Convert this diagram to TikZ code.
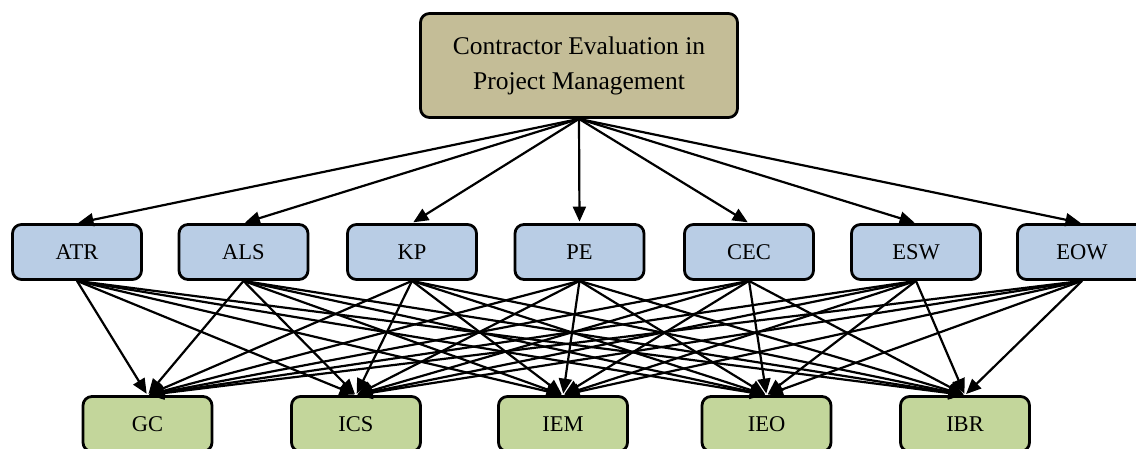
\documentclass[tikz,border=0pt]{standalone}
\usepackage{fontspec}
\setmainfont{Liberation Serif}
\usetikzlibrary{arrows.meta}
\definecolor{tanfill}{HTML}{C4BD97}
\definecolor{bluefill}{HTML}{B9CDE5}
\definecolor{greenfill}{HTML}{C3D69B}
\tikzset{
  box/.style={draw=black, line width=2.8pt, rounded corners=9pt, minimum width=129pt, minimum height=55pt, inner sep=0pt, font=\fontsize{22.5}{26}\selectfont},
  topbox/.style={box, fill=tanfill, minimum width=317pt, minimum height=104pt, align=center, font=\fontsize{25.5}{35}\selectfont},
  midbox/.style={box, fill=bluefill},
  botbox/.style={box, fill=greenfill},
  edge/.style={line width=2.2pt, -{Triangle[length=15pt,width=13pt]}, shorten >=1.5pt}
}
\begin{document}
\begin{tikzpicture}[x=1pt,y=-1pt]
\useasboundingbox (0,0) rectangle (1136,448);
\clip (0,0) rectangle (1136,448);
\node[topbox] (top) at (579,65.5) {Contractor Evaluation in\\Project Management};
\node[midbox] (ATR) at (77,252) {ATR};
\node[midbox] (ALS) at (243.5,252) {ALS};
\node[midbox] (KP) at (412,252) {KP};
\node[midbox] (PE) at (579.5,252) {PE};
\node[midbox] (CEC) at (749,252) {CEC};
\node[midbox] (ESW) at (916,252) {ESW};
\node[midbox] (EOW) at (1082,252) {EOW};
\node[botbox] (GC) at (147.5,424) {GC};
\node[botbox] (ICS) at (356,424) {ICS};
\node[botbox] (IEM) at (563,424) {IEM};
\node[botbox] (IEO) at (766.5,424) {IEO};
\node[botbox] (IBR) at (965,424) {IBR};
\foreach \m in {ATR,ALS,KP,PE,CEC,ESW,EOW}{
  \draw[edge] (top.south) -- (\m.north);
  \foreach \b in {GC,ICS,IEM,IEO,IBR}{
    \draw[edge] (\m.south) -- (\b.north);
  }
}
\end{tikzpicture}
\end{document}
